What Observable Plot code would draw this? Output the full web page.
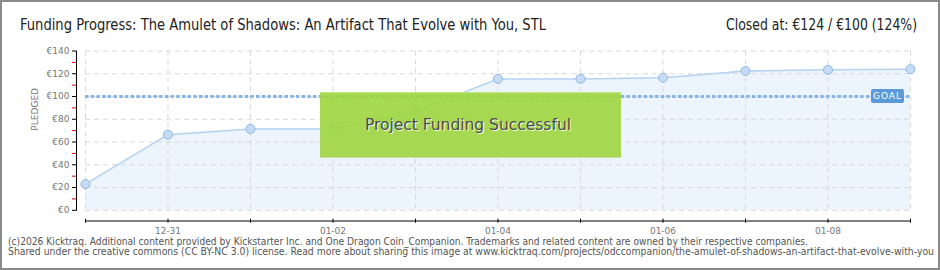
<!DOCTYPE html>
<html>
<head>
<meta charset="utf-8">
<script src="https://cdn.jsdelivr.net/npm/d3@7"></script>
<script src="https://cdn.jsdelivr.net/npm/@observablehq/plot@0.6"></script>
<style>
  html, body { margin: 0; padding: 0; background: #fff; }
  #wrap { position: relative; width: 940px; height: 270px; overflow: hidden; background: #fff; }
  #border { position: absolute; left: 0; top: 0; width: 940px; height: 270px; box-sizing: border-box; border: 2px solid #8a8a8a; pointer-events: none; }
  .title { position: absolute; font-family: "DejaVu Sans Condensed", "DejaVu Sans", sans-serif; font-size: 16px; line-height: 16px; color: #222; white-space: nowrap; }
  #chart { position: absolute; left: 0; top: 40px; }
  .cap { position: absolute; left: 8px; font-family: "DejaVu Sans Condensed", "DejaVu Sans", sans-serif; font-size: 10px; line-height: 10px; color: #555; white-space: nowrap; transform-origin: left center; }
  #success { position: absolute; left: 320px; top: 92px; width: 301px; height: 66px; box-sizing: border-box;
    background: rgba(158, 214, 62, 0.9); border-top: 1px solid #c3e68c; border-bottom: 1px solid #c8dfa8; }
  #successText { position: absolute; left: 45px; top: 24px; white-space: nowrap; transform-origin: left center;
    font-family: "DejaVu Sans Condensed", "DejaVu Sans", sans-serif; font-size: 16px; line-height: 16px; color: #4a4a4a; text-shadow: 1px 1px 0 #f2f8e6; }
  #goal { position: absolute; left: 871px; top: 89px; width: 33px; height: 14px; background: #5a9ad8; border-radius: 2px;
    color: #fff; font-family: "DejaVu Sans", sans-serif; font-size: 9px; line-height: 14px; text-align: center; letter-spacing: 1px; }
</style>
</head>
<body>
<div id="wrap">
  <div class="title" id="t1" style="left:20px; top:17px; transform-origin:left center;"></div>
  <div class="title" id="t2" style="right:23px; top:17px; transform-origin:right center;"></div>
  <div id="chart"></div>
  <div id="success"><span id="successText"></span></div>
  <div id="goal"></div>
  <div class="cap" id="c1" style="top:237px;"></div>
  <div class="cap" id="c2" style="top:247px;"></div>
  <div id="border"></div>
</div>
<script>
// ---- data ----
const titleText = "Funding Progress: The Amulet of Shadows: An Artifact That Evolve with You, STL";
const closedText = "Closed at:  €124 / €100 (124%)";
const caption1 = "(c)2026 Kicktraq. Additional content provided by Kickstarter Inc. and One Dragon Coin_Companion. Trademarks and related content are owned by their respective companies.";
const caption2 = "Shared under the creative commons (CC BY-NC 3.0) license. Read more about sharing this image at www.kicktraq.com/projects/odccompanion/the-amulet-of-shadows-an-artifact-that-evolve-with-you";
const successText = "Project Funding Successful";
const goalText = "GOAL";
const yLabel = "PLEDGED";

const dates = ["2025-12-30", "2025-12-31", "2026-01-01", "2026-01-02", "2026-01-03", "2026-01-04",
               "2026-01-05", "2026-01-06", "2026-01-07", "2026-01-08", "2026-01-09"];
const pledged = [23, 66.5, 71.5, 71.5, 87, 115.5, 115.5, 116.5, 122.5, 123.5, 124];
const goal = 100;
const yMajorTicks = [0, 20, 40, 60, 80, 100, 120, 140];
const yMinorTicks = [10, 30, 50, 70, 90, 110, 130];
const xLabelDates = ["2025-12-31", "2026-01-02", "2026-01-04", "2026-01-06", "2026-01-08"];

// ---- build ----
const parse = d3.utcParse("%Y-%m-%d");
const dayDates = dates.map(parse);
const labelDates = xLabelDates.map(parse);
const data = dates.map((d, i) => ({date: parse(d), value: pledged[i]}));

document.getElementById("t1").textContent = titleText;
document.getElementById("t2").textContent = closedText;
document.getElementById("c1").textContent = caption1;
document.getElementById("c2").textContent = caption2;
document.getElementById("successText").textContent = successText;
document.getElementById("goal").textContent = goalText;

// fit text widths to the reference's measured widths
function fitWidth(id, target) {
  const el = document.getElementById(id);
  const w = el.getBoundingClientRect().width;
  if (w > 0) el.style.transform = `scaleX(${target / w})`;
}
fitWidth("t1", 526);
fitWidth("t2", 191);
fitWidth("successText", 206);
fitWidth("c1", 800);
fitWidth("c2", 926);

const axisFont = {fontFamily: "DejaVu Sans, sans-serif", fontSize: 9};

const chart = Plot.plot({
  width: 940,
  height: 195,
  marginLeft: 85,
  marginRight: 30,
  marginTop: 10.5,
  marginBottom: 25.2,
  x: {type: "utc", domain: [dayDates[0], dayDates[dayDates.length - 1]]},
  y: {domain: [0, 140]},
  style: {background: "transparent", color: "#777", fontFamily: "DejaVu Sans, sans-serif", fontSize: "9px", overflow: "visible"},
  marks: [
    Plot.areaY(data, {x: "date", y: "value", fill: "#eaf3fd", fillOpacity: 0.9}),
    Plot.gridX(dayDates, {stroke: "#d9d9d9", strokeOpacity: 1, strokeDasharray: "5,4"}),
    Plot.gridY(yMajorTicks, {stroke: "#d9d9d9", strokeOpacity: 1, strokeDasharray: "5,4"}),
    Plot.lineY(data, {x: "date", y: "value", stroke: "#b4d2f1", strokeWidth: 1.5}),
    Plot.ruleY([goal], {stroke: "#86b4e6", strokeWidth: 3, strokeDasharray: "3.5,2.2"}),
    Plot.dot(data, {x: "date", y: "value", r: 4.5, fill: "#c6dcf6", stroke: "#92b6e0", strokeWidth: 1}),
    Plot.frame({anchor: "left", dx: -9, stroke: "#000"}),
    Plot.axisY({ticks: yMajorTicks, tickSize: 4, dx: -9, tickPadding: 3, tickFormat: d => "€" + d, stroke: "#000", fill: "#777", label: null, ...axisFont}),
    Plot.axisY({ticks: yMinorTicks, tickSize: 4, dx: -9, stroke: "#e00000", text: null, label: null}),
    Plot.text([yLabel], {frameAnchor: "left", rotate: -90, dx: -50, fill: "#777", fontSize: 9, fontFamily: "DejaVu Sans, sans-serif", letterSpacing: 1.5}),
    Plot.frame({anchor: "bottom", dy: 10.7, stroke: "#000"}),
    Plot.axisX({ticks: dayDates, tickSize: 4, dy: 8.9, text: null, label: null, stroke: "#000"}),
    Plot.axisX({ticks: labelDates, tickSize: 0, dy: 8, tickFormat: d3.utcFormat("%m-%d"), fill: "#777", label: null, ...axisFont})
  ]
});
document.getElementById("chart").appendChild(chart);
</script>
</body>
</html>
